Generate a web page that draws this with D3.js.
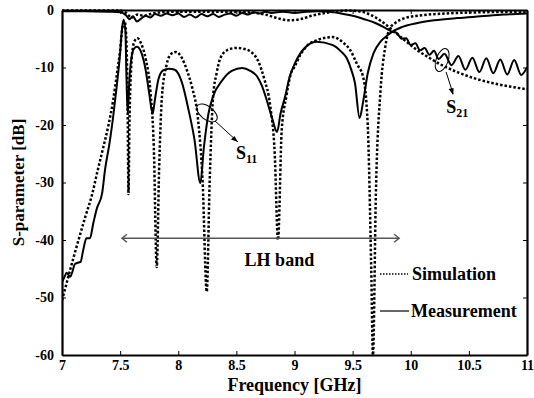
<!DOCTYPE html>
<html>
<head>
<meta charset="utf-8">
<script src="https://cdn.jsdelivr.net/npm/d3@7"></script>
<style>
  body { margin: 0; background: #fff; }
  svg { display: block; }
  text { font-family: "Liberation Serif", "Times New Roman", serif; font-weight: bold; }
</style>
</head>
<body>
<svg id="chart" width="534" height="398"></svg>
<script>
// x ticks / y ticks
var xTicks = [7, 7.5, 8, 8.5, 9, 9.5, 10, 10.5, 11];
var yTicks = [0, -10, -20, -30, -40, -50, -60];

// S11 simulation (dotted)
var simS11F = [7.00, 7.10, 7.20, 7.26, 7.30, 7.35, 7.40, 7.44, 7.48, 7.50, 7.52, 7.54, 7.555, 7.565, 7.572, 7.58, 7.595, 7.61, 7.63, 7.65, 7.68, 7.72, 7.76, 7.79, 7.815, 7.835, 7.86, 7.90, 7.94, 7.98, 8.03, 8.08, 8.12, 8.17, 8.21, 8.245, 8.27, 8.30, 8.33, 8.36, 8.42, 8.50, 8.55, 8.62, 8.69, 8.74, 8.79, 8.83, 8.858, 8.89, 8.93, 8.97, 9.00, 9.05, 9.10, 9.20, 9.33, 9.42, 9.48, 9.54, 9.59, 9.63, 9.66, 9.675, 9.70, 9.74, 9.78, 9.82, 9.87, 9.95, 10.1, 10.3, 10.6, 11.0];
var simS11 = [-50.5, -43, -36, -32, -28.5, -24.3, -20, -15.7, -10, -7, -3, -2, -6, -18, -32, -20, -10, -6.5, -5.2, -4.9, -5.8, -8.5, -14, -24, -44.7, -28, -15, -9.5, -7.6, -7.3, -8.3, -10.8, -13.5, -19, -30, -49, -30, -15, -11, -8.5, -7, -6.6, -6.7, -7.2, -9, -12, -16.5, -25, -40, -20.9, -15, -11, -9.9, -7.8, -6.4, -5.2, -4.7, -5.7, -7, -9.5, -11.6, -20, -45, -60, -32, -14, -6.5, -3.2, -2.2, -1.4, -0.9, -0.6, -0.4, -0.3];

// S11 measurement (solid)
var measS11F = [7.00, 7.02, 7.04, 7.07, 7.09, 7.11, 7.13, 7.16, 7.18, 7.21, 7.24, 7.27, 7.30, 7.345, 7.37, 7.41, 7.44, 7.47, 7.50, 7.515, 7.53, 7.545, 7.555, 7.565, 7.58, 7.60, 7.62, 7.645, 7.68, 7.72, 7.75, 7.78, 7.80, 7.83, 7.87, 7.92, 7.97, 8.03, 8.09, 8.14, 8.19, 8.22, 8.26, 8.30, 8.38, 8.46, 8.55, 8.62, 8.68, 8.72, 8.76, 8.81, 8.85, 8.88, 8.92, 8.96, 8.99, 9.07, 9.19, 9.33, 9.40, 9.45, 9.49, 9.52, 9.56, 9.59, 9.63, 9.68, 9.74, 9.80, 9.84, 9.92, 10.05, 10.2, 10.4, 10.6, 10.8, 11.0];
var measS11 = [-47.3, -46.5, -45.7, -46.4, -45.5, -44.2, -44, -43.8, -42, -39.7, -39.7, -37, -34.5, -31.9, -27.8, -23, -18.6, -13.4, -7.5, -3.5, -1.7, -3.5, -12, -18, -12, -8, -6.7, -6.4, -7.3, -10.5, -14.5, -18, -15.5, -12, -10.5, -10.2, -10.4, -12.5, -17.5, -22.6, -30.1, -24, -18, -15, -12.2, -10.6, -10.1, -10.6, -11.6, -13.2, -15.6, -19, -21.2, -18, -15, -11.5, -9.9, -7, -5.5, -6.1, -7.2, -8.4, -10.5, -12.7, -18.8, -16, -11, -7.5, -5.5, -4.4, -3.8, -3.0, -2.3, -1.8, -1.4, -1.1, -0.8, -0.6];

// S21 simulation (dotted)
var simS21F = [7.00, 7.30, 7.50, 7.55, 7.60, 7.65, 7.70, 7.80, 8.00, 8.30, 8.60, 8.75, 8.85, 8.95, 9.05, 9.15, 9.30, 9.45, 9.55, 9.65, 9.75, 9.85, 9.95, 10.05, 10.15, 10.25, 10.40, 10.55, 10.70, 10.85, 11.0];
var simS21 = [-0.1, -0.1, -0.1, -0.5, -1.3, -0.8, -1.0, -0.5, -0.3, -0.3, -0.4, -0.8, -1.4, -1.8, -1.6, -1.0, -0.4, -0.1, -0.2, -0.8, -2.0, -3.6, -5.3, -6.9, -8.2, -9.4, -10.8, -11.9, -12.7, -13.3, -13.8];

// S21 measurement (solid)
var measS21F = [7.00, 7.20, 7.40, 7.50, 7.55, 7.58, 7.61, 7.645, 7.68, 7.72, 7.76, 7.80, 7.85, 7.90, 7.95, 8.00, 8.05, 8.10, 8.15, 8.20, 8.25, 8.30, 8.35, 8.40, 8.45, 8.50, 8.55, 8.60, 8.65, 8.70, 8.75, 8.80, 8.90, 9.00, 9.10, 9.20, 9.30, 9.40, 9.50, 9.60, 9.70, 9.78, 9.84, 9.88, 9.92, 9.96, 10.00, 10.04, 10.08, 10.12, 10.16, 10.20, 10.24, 10.29, 10.35, 10.41, 10.47, 10.53, 10.59, 10.65, 10.71, 10.77, 10.83, 10.89, 10.95, 11.0];
var measS21 = [-0.2, -0.2, -0.3, -0.4, -0.9, -1.6, -1.1, -2.0, -1.5, -1.0, -1.3, -0.7, -1.0, -0.6, -0.9, -0.6, -1.2, -0.8, -1.3, -0.7, -1.1, -0.7, -1.2, -0.8, -0.6, -1.0, -0.5, -0.8, -0.4, -0.6, -0.3, -0.5, -0.3, -0.5, -0.3, -0.2, -0.3, -0.6, -1.0, -1.6, -2.3, -3.1, -3.8, -4.0, -5.0, -4.9, -6.1, -5.8, -7.0, -6.6, -7.8, -7.1, -8.5, -7.6, -9.6, -8.0, -10.4, -8.3, -10.8, -8.4, -11.0, -8.6, -11.2, -8.7, -11.3, -10.0];

var svg = d3.select("#chart");
var mLeft = 62, mTop = 10, mRight = 527, mBottom = 355;

var x = d3.scaleLinear().domain([7, 11]).range([mLeft, mRight]);
var y = d3.scaleLinear().domain([-60, 0]).range([mBottom, mTop]);

function pts(fs, vs) {
  return fs.map(function(f, i) { return [f, vs[i]]; });
}

var line = d3.line()
  .x(function(d) { return x(d[0]); })
  .y(function(d) { return y(d[1]); })
  .curve(d3.curveMonotoneX);

svg.append("clipPath").attr("id", "clip")
  .append("rect").attr("x", mLeft).attr("y", mTop - 1).attr("width", mRight - mLeft).attr("height", mBottom - mTop + 1);

var plot = svg.append("g").attr("clip-path", "url(#clip)");

// simulation curves (dotted)
[pts(simS11F, simS11), pts(simS21F, simS21)].forEach(function(d) {
  plot.append("path")
    .datum(d)
    .attr("d", line)
    .attr("fill", "none")
    .attr("stroke", "#000")
    .attr("stroke-width", 2.5)
    .attr("stroke-dasharray", "2.5,2");
});

// measurement curves (solid)
[pts(measS11F, measS11), pts(measS21F, measS21)].forEach(function(d) {
  plot.append("path")
    .datum(d)
    .attr("d", line)
    .attr("fill", "none")
    .attr("stroke", "#000")
    .attr("stroke-width", 2)
    .attr("stroke-linejoin", "round");
});

// axes, ticks pointing inward
svg.append("g")
  .attr("transform", "translate(0," + mBottom + ")")
  .call(d3.axisBottom(x).tickValues(xTicks).tickSizeInner(-4).tickSizeOuter(0).tickPadding(5)
    .tickFormat(function(d) { return d; }));
svg.append("g")
  .attr("transform", "translate(" + mLeft + ",0)")
  .call(d3.axisLeft(y).tickValues(yTicks).tickSizeInner(-4).tickSizeOuter(0).tickPadding(8)
    .tickFormat(function(d) { return d; }));
svg.append("g")
  .attr("transform", "translate(0," + mTop + ")")
  .call(d3.axisTop(x).tickValues(xTicks).tickSizeInner(-4).tickSizeOuter(0).tickFormat(""));
svg.append("g")
  .attr("transform", "translate(" + mRight + ",0)")
  .call(d3.axisRight(y).tickValues(yTicks).tickSizeInner(-4).tickSizeOuter(0).tickFormat(""));

svg.selectAll(".domain").attr("stroke", "#000").attr("stroke-width", 2.2);
svg.selectAll(".tick line").attr("stroke", "#000").attr("stroke-width", 1);
svg.selectAll(".tick text")
  .style("font-family", "'Liberation Serif', serif")
  .style("font-weight", "bold")
  .style("font-size", "14px")
  .attr("fill", "#000");

// axis titles
svg.append("text")
  .attr("x", (mLeft + mRight) / 2)
  .attr("y", 391)
  .attr("text-anchor", "middle")
  .style("font-size", "18px")
  .text("Frequency [GHz]");

svg.append("text")
  .attr("transform", "translate(24," + ((mTop + mBottom) / 2) + ") rotate(-90)")
  .attr("text-anchor", "middle")
  .style("font-size", "17px")
  .text("S-parameter [dB]");

// LH band double arrow
var lhY = y(-39.7), lhX1 = x(7.516), lhX2 = x(9.9);
var ann = svg.append("g").attr("stroke", "#555").attr("stroke-width", 1.5).attr("fill", "none");
ann.append("line").attr("x1", lhX1).attr("x2", lhX2).attr("y1", lhY).attr("y2", lhY);
ann.append("path").attr("d", "M" + (lhX1 + 5) + "," + (lhY - 4) + "L" + lhX1 + "," + lhY + "L" + (lhX1 + 5) + "," + (lhY + 4));
ann.append("path").attr("d", "M" + (lhX2 - 5) + "," + (lhY - 4) + "L" + lhX2 + "," + lhY + "L" + (lhX2 - 5) + "," + (lhY + 4));

svg.append("text")
  .attr("x", x(8.87))
  .attr("y", 266)
  .attr("text-anchor", "middle")
  .style("font-size", "18px")
  .text("LH band");

// S11 marker ellipse + arrow
var e1x = x(8.247), e1y = y(-17.9);
svg.append("ellipse")
  .attr("transform", "translate(" + e1x + "," + e1y + ") rotate(38)")
  .attr("rx", 12).attr("ry", 6.5)
  .attr("fill", "none").attr("stroke", "#000").attr("stroke-width", 1);
svg.append("line")
  .attr("x1", e1x + 8).attr("y1", e1y + 8).attr("x2", e1x + 31).attr("y2", e1y + 29)
  .attr("stroke", "#000").attr("stroke-width", 1);
svg.append("path")
  .attr("d", "M" + (e1x + 31) + "," + (e1y + 29) + "l-7,-2.5 l3.5,-3.5z")
  .attr("fill", "#000");
var s11 = svg.append("text").attr("x", e1x + 29).attr("y", e1y + 46).style("font-size", "18px");
s11.append("tspan").text("S");
s11.append("tspan").attr("dy", 4).style("font-size", "12px").text("11");

// S21 marker ellipse + arrow
var e2x = x(10.27), e2y = y(-8.7);
svg.append("ellipse")
  .attr("transform", "translate(" + e2x + "," + e2y + ") rotate(20)")
  .attr("rx", 6).attr("ry", 12)
  .attr("fill", "none").attr("stroke", "#000").attr("stroke-width", 1);
svg.append("line")
  .attr("x1", e2x + 4).attr("y1", e2y + 12).attr("x2", e2x + 11).attr("y2", e2y + 34)
  .attr("stroke", "#000").attr("stroke-width", 1);
svg.append("path")
  .attr("d", "M" + (e2x + 11) + "," + (e2y + 35) + "l-4.5,-6 l5,-1z")
  .attr("fill", "#000");
var s21 = svg.append("text").attr("x", e2x + 4).attr("y", e2y + 53).style("font-size", "18px");
s21.append("tspan").text("S");
s21.append("tspan").attr("dy", 4).style("font-size", "12px").text("21");

// legend
var lg = svg.append("g");
lg.append("line").attr("x1", 380).attr("x2", 408).attr("y1", 274).attr("y2", 274)
  .attr("stroke", "#000").attr("stroke-width", 1.3).attr("stroke-dasharray", "1.5,1.5");
lg.append("text").attr("x", 412).attr("y", 280).style("font-size", "18px").text("Simulation");
lg.append("line").attr("x1", 380).attr("x2", 409).attr("y1", 311).attr("y2", 311)
  .attr("stroke", "#333").attr("stroke-width", 1.5);
lg.append("text").attr("x", 411).attr("y", 317).style("font-size", "18px").text("Measurement");
</script>
</body>
</html>
